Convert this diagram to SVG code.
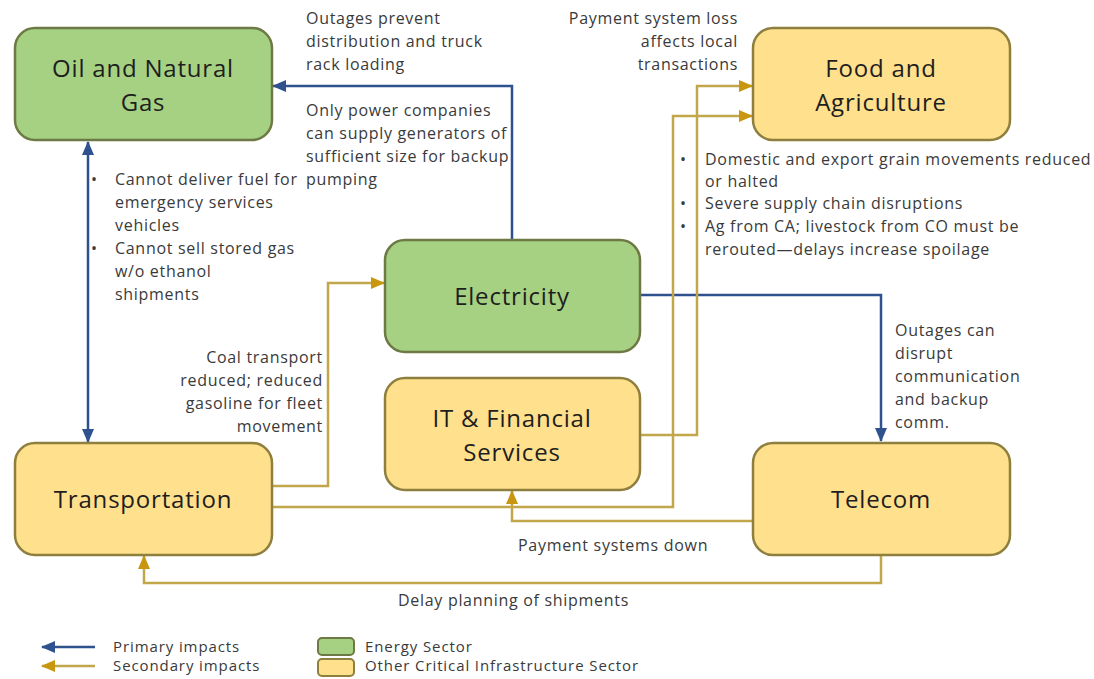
<svg xmlns="http://www.w3.org/2000/svg" width="1094" height="679" viewBox="0 0 1094 679">
<style>
.box{stroke-width:2.5}
.energy{fill:#a6d182;stroke:#6e7a45}
.other{fill:#fee08d;stroke:#8f7f3e}
.title{font-family:"Open Sans","Noto Sans",sans-serif;font-size:24px;letter-spacing:0.8px;fill:#1e1e1e;text-anchor:middle}
.lbl{font-family:"Open Sans","Noto Sans",sans-serif;font-size:16px;letter-spacing:0.7px;fill:#3a3a3a}
.leg{font-family:"Open Sans","Noto Sans",sans-serif;font-size:15px;letter-spacing:0.9px;fill:#3a3a3a}
.r{text-anchor:end}
.p{fill:none;stroke:#2f528f;stroke-width:2.5}
.s{fill:none;stroke:#c2a64a;stroke-width:2.5}
</style>
<defs>
<marker id="ab" markerWidth="14" markerHeight="12" refX="13" refY="6" orient="auto" markerUnits="userSpaceOnUse"><path d="M0,0 L14,6 L0,12 Z" fill="#2f528f"/></marker>
<marker id="ag" markerWidth="14" markerHeight="12" refX="13" refY="6" orient="auto" markerUnits="userSpaceOnUse"><path d="M0,0 L14,6 L0,12 Z" fill="#c8960f"/></marker>
<marker id="abs" markerWidth="14" markerHeight="12" refX="1" refY="6" orient="auto" markerUnits="userSpaceOnUse"><path d="M14,0 L0,6 L14,12 Z" fill="#2f528f"/></marker>
</defs>
<rect width="1094" height="679" fill="#ffffff"/>

<g id="connectors">
<path class="p" d="M512,240 V86 H273" marker-end="url(#ab)"/>
<path class="p" d="M88,142 V442" marker-start="url(#abs)" marker-end="url(#ab)"/>
<path class="p" d="M640,295 H881 V441" marker-end="url(#ab)"/>
<path class="s" d="M272,486 H328 V283 H384" marker-end="url(#ag)"/>
<path class="s" d="M272,507 H673 V116 H752" marker-end="url(#ag)"/>
<path class="s" d="M640,435 H697 V86 H752" marker-end="url(#ag)"/>
<path class="s" d="M753,521 H512 V491" marker-end="url(#ag)"/>
<path class="s" d="M881,555 V583 H144 V556" marker-end="url(#ag)"/>
</g>

<g id="oil"><rect class="box energy" x="15" y="28" width="257" height="112" rx="20"/>
<text class="title" x="143" y="77">Oil and Natural</text><text class="title" x="143" y="111">Gas</text></g>
<g id="food"><rect class="box other" x="753" y="28" width="257" height="112" rx="20"/>
<text class="title" x="881" y="77">Food and</text><text class="title" x="881" y="111">Agriculture</text></g>
<g id="electricity"><rect class="box energy" x="385" y="240" width="255" height="112" rx="20"/>
<text class="title" x="512" y="305">Electricity</text></g>
<g id="it"><rect class="box other" x="385" y="378" width="255" height="112" rx="20"/>
<text class="title" x="512" y="427">IT &amp; Financial</text><text class="title" x="512" y="461">Services</text></g>
<g id="transportation"><rect class="box other" x="15" y="443" width="257" height="112" rx="20"/>
<text class="title" x="143" y="508">Transportation</text></g>
<g id="telecom"><rect class="box other" x="753" y="443" width="257" height="112" rx="20"/>
<text class="title" x="881" y="508">Telecom</text></g>

<g id="labels">
<text class="lbl" x="306" y="24">Outages prevent</text>
<text class="lbl" x="306" y="47">distribution and truck</text>
<text class="lbl" x="306" y="70">rack loading</text>
<text class="lbl" x="306" y="116">Only power companies</text>
<text class="lbl" x="306" y="139">can supply generators of</text>
<text class="lbl" x="306" y="162">sufficient size for backup</text>
<text class="lbl" x="306" y="185">pumping</text>

<text class="lbl" x="91" y="185">•</text>
<text class="lbl" x="115" y="185">Cannot deliver fuel for</text>
<text class="lbl" x="115" y="208">emergency services</text>
<text class="lbl" x="115" y="231">vehicles</text>
<text class="lbl" x="91" y="254">•</text>
<text class="lbl" x="115" y="254">Cannot sell stored gas</text>
<text class="lbl" x="115" y="277">w/o ethanol</text>
<text class="lbl" x="115" y="300">shipments</text>

<text class="lbl r" x="738" y="24">Payment system loss</text>
<text class="lbl r" x="738" y="47">affects local</text>
<text class="lbl r" x="738" y="70">transactions</text>

<text class="lbl" x="680" y="165">•</text>
<text class="lbl" x="705" y="165">Domestic and export grain movements reduced</text>
<text class="lbl" x="705" y="187">or halted</text>
<text class="lbl" x="680" y="209">•</text>
<text class="lbl" x="705" y="209">Severe supply chain disruptions</text>
<text class="lbl" x="680" y="232">•</text>
<text class="lbl" x="705" y="232">Ag from CA; livestock from CO must be</text>
<text class="lbl" x="705" y="255">rerouted—delays  increase spoilage</text>

<text class="lbl r" x="323" y="363">Coal transport</text>
<text class="lbl r" x="323" y="386">reduced; reduced</text>
<text class="lbl r" x="323" y="409">gasoline for fleet</text>
<text class="lbl r" x="323" y="432">movement</text>

<text class="lbl" x="895" y="336">Outages can</text>
<text class="lbl" x="895" y="359">disrupt</text>
<text class="lbl" x="895" y="382">communication</text>
<text class="lbl" x="895" y="405">and backup</text>
<text class="lbl" x="895" y="428">comm.</text>

<text class="lbl" x="518" y="551">Payment systems down</text>
<text class="lbl" x="398" y="606">Delay planning of shipments</text>
</g>

<g id="legend">
<path class="p" d="M95,647 H42" marker-end="url(#ab)"/>
<path class="s" d="M95,666 H42" marker-end="url(#ag)"/>
<text class="leg" x="113" y="652">Primary impacts</text>
<text class="leg" x="113" y="671">Secondary impacts</text>
<rect class="energy" stroke-width="2" x="318" y="638" width="36" height="17" rx="4"/>
<rect class="other" stroke-width="2" x="318" y="659" width="36" height="17" rx="4"/>
<text class="leg" x="365" y="652">Energy Sector</text>
<text class="leg" x="365" y="671">Other Critical Infrastructure Sector</text>
</g>
</svg>
